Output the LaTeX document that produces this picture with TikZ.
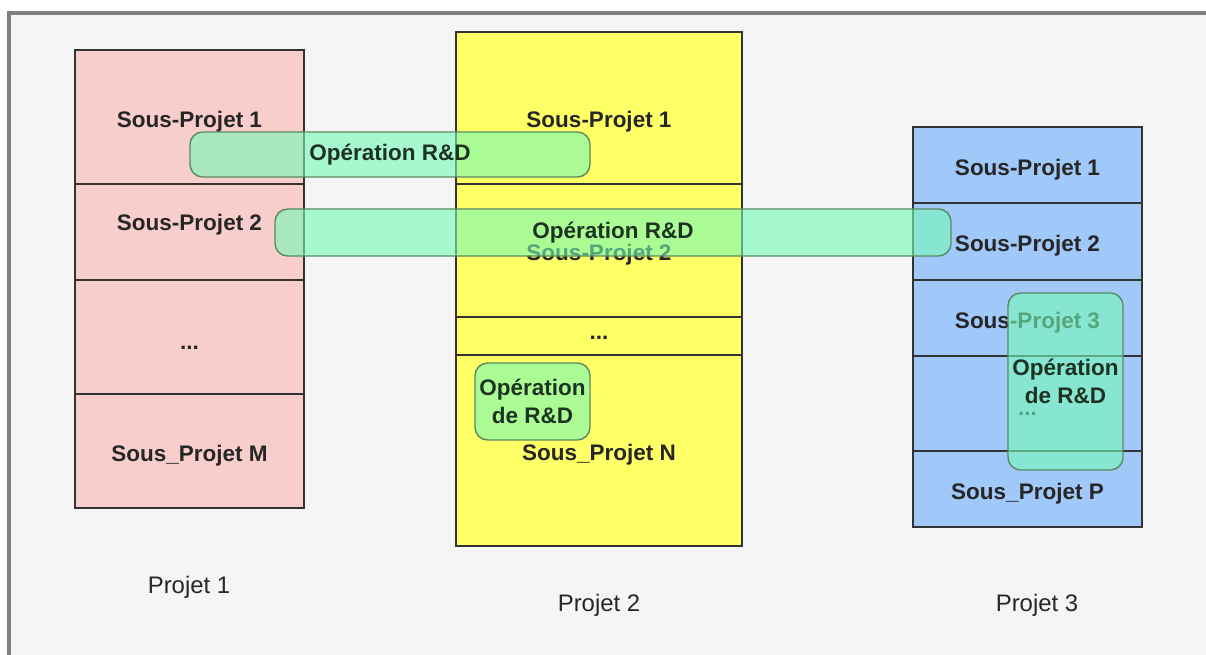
\documentclass[tikz,border=0pt]{standalone}
\usepackage{xcolor}
\usepackage{fontspec}
\setmainfont{Liberation Sans}
\usetikzlibrary{fit}

\definecolor{rose}{HTML}{F8CECC}
\definecolor{citron}{HTML}{FFFF66}
\definecolor{ciel}{HTML}{A0C8F8}
\definecolor{menthe}{HTML}{75FAB7}
\definecolor{vertbord}{HTML}{5A8A60}
\definecolor{encre}{HTML}{1C3322}
\definecolor{fond}{HTML}{F5F5F5}

\begin{document}
\begin{tikzpicture}[x=0.025cm,y=-0.025cm,
                    cell/.style={rectangle,draw=black!80,line width=1pt,inner sep=0pt},
                    lbl/.style={yshift=-3pt,font=\fontsize{16}{19}\selectfont\bfseries,text=black!85},
                    op/.style={rectangle,rounded corners=9pt,draw=vertbord,line width=1pt,
                               fill=menthe,fill opacity=0.6,inner sep=0pt},
                    oplbl/.style={align=center,font=\fontsize{16}{19.8}\selectfont\bfseries,
                                  text=encre,inner sep=0pt},
                    titre/.style={font=\fontsize{17}{20}\selectfont,text=black!85}]

  \useasboundingbox (0,0) rectangle (1206,655);
  \fill[fond] (9,13) rectangle (1206,655);
  \draw[black!50,line width=2.5pt] (9,660) |- (1210,13);

  % Projet 1
  \node[cell,fill=rose,fit={(75,50) (304,184)},label={[lbl]center:Sous-Projet 1}] (p1a) {};
  \node[cell,fill=rose,fit={(75,184) (304,280)},label={[lbl,yshift=8pt]center:Sous-Projet 2}] (p1b) {};
  \node[cell,fill=rose,fit={(75,280) (304,394)},label={[lbl,yshift=-4.5pt]center:...}] (p1c) {};
  \node[cell,fill=rose,fit={(75,394) (304,508)},label={[lbl]center:Sous\_Projet M}] (p1d) {};
  \node[titre] (t1) at (189,587) {Projet 1};

  % Projet 2
  \node[cell,fill=citron,fit={(456,32) (742,184)},label={[lbl,yshift=-6.5pt]center:Sous-Projet 1}] (p2a) {};
  \node[cell,fill=citron,fit={(456,184) (742,317)},label={[lbl]center:Sous-Projet 2}] (p2b) {};
  \node[cell,fill=citron,fit={(456,317) (742,355)},label={[lbl,yshift=2pt]center:...}] (p2c) {};
  \node[cell,fill=citron,fit={(456,355) (742,546)},label={[lbl]center:Sous\_Projet N}] (p2d) {};
  \node[titre] (t2) at (599,605) {Projet 2};

  % Projet 3
  \node[cell,fill=ciel,fit={(913,127) (1142,203)},label={[lbl]center:Sous-Projet 1}] (p3a) {};
  \node[cell,fill=ciel,fit={(913,203) (1142,280)},label={[lbl]center:Sous-Projet 2}] (p3b) {};
  \node[cell,fill=ciel,fit={(913,280) (1142,356)},label={[lbl]center:Sous-Projet 3}] (p3c) {};
  \node[cell,fill=ciel,fit={(913,356) (1142,451)},label={[lbl,yshift=-4.5pt]center:...}] (p3d) {};
  \node[cell,fill=ciel,fit={(913,451) (1142,527)},label={[lbl]center:Sous\_Projet P}] (p3e) {};
  \node[titre] (t3) at (1037,605) {Projet 3};

  % operations R&D
  \node[op,fit={(190,132) (590,177)},label={[oplbl]center:Opération R\&D}] (op1) {};
  \node[op,fit={(275,209) (951,256)},label={[oplbl]center:Opération R\&D}] (op2) {};
  \node[op,fit={(475,363) (590,440)},label={[oplbl]center:Opération\\de R\&D}] (op3) {};
  \node[op,fit={(1008,293) (1123,470)},label={[oplbl]center:Opération\\de R\&D}] (op4) {};
\end{tikzpicture}
\end{document}
